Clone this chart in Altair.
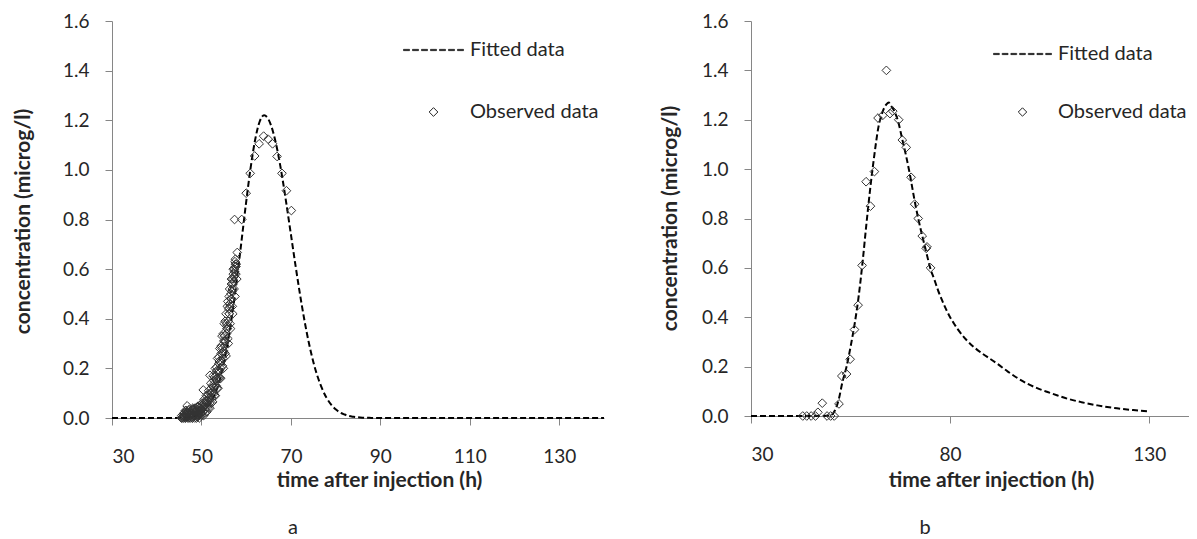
import altair as alt
import pandas as pd

FONT = "Lato"

# ---------------- Panel a ----------------
fit_a_x = [30, 40, 44, 46, 47, 48, 49, 50, 51, 52, 53, 54, 55, 56, 57, 58, 59, 60, 61, 62, 63, 64,
           65, 66, 67, 68, 69, 70, 71, 72, 73, 74, 75, 76, 77, 78, 79, 80, 81, 82, 83, 84, 86, 88, 90, 100, 140]
fit_a_y = [0, 0, 0.0002, 0.0013, 0.0028, 0.0055, 0.0106, 0.0196, 0.0347, 0.0586, 0.095, 0.148, 0.221,
           0.316, 0.434, 0.571, 0.720, 0.871, 1.009, 1.121, 1.194, 1.22,
           1.203, 1.154, 1.077, 0.977, 0.862, 0.740, 0.618, 0.502, 0.396, 0.304, 0.227, 0.165, 0.117,
           0.080, 0.054, 0.035, 0.022, 0.014, 0.008, 0.005, 0.0015, 0.0004, 0.0001, 0, 0]

obs_a_x = [46.8, 49.2, 50.4, 51.9, 57.4, 57.6, 58.0, 59.0, 60.0, 60.9, 61.9, 62.9, 63.9, 64.9, 65.9,
           66.9, 68.0, 69.0, 70.1]
obs_a_y = [0.049, 0.047, 0.113, 0.172, 0.80, 0.62, 0.667, 0.80, 0.906, 0.986, 1.056, 1.105, 1.136,
           1.124, 1.105, 1.054, 0.986, 0.916, 0.836]

# dense run of observations on the rising limb (panel a)
band1_x = [45.8, 46.0, 46.3, 46.5, 46.8, 47.0, 47.2, 47.5, 47.8, 48.0, 48.3, 48.5, 48.8, 49.0, 49.3,
           49.5, 49.8, 50.0, 50.3, 50.5, 50.8, 51.0, 51.3, 51.5, 51.8, 52.0, 52.3, 52.5, 52.8, 53.0,
           53.3, 53.5, 53.8, 54.0, 54.3, 54.5, 54.8, 55.0, 55.2, 55.4, 55.6, 55.8, 56.0, 56.2, 56.4,
           56.6, 56.8, 57.0, 57.2, 57.4, 57.6, 57.8]
band1_y = [0.005, 0.01, 0.0, 0.012, 0.005, 0.015, 0.0, 0.01, 0.005, 0.018, 0.008, 0.02, 0.012, 0.025,
           0.015, 0.03, 0.02, 0.035, 0.025, 0.045, 0.035, 0.055, 0.045, 0.07, 0.06, 0.085, 0.08, 0.105,
           0.1, 0.13, 0.13, 0.16, 0.16, 0.19, 0.2, 0.23, 0.24, 0.27, 0.29, 0.31, 0.34, 0.36, 0.39, 0.42,
           0.45, 0.48, 0.51, 0.54, 0.57, 0.59, 0.61, 0.62]
band2_x = [46.2, 46.9, 47.6, 48.2, 48.9, 49.6, 50.2, 50.9, 51.6, 52.2, 52.8, 53.4, 54.0, 54.6, 55.1,
           55.6, 56.1, 56.6, 57.0, 57.4]
band2_y = [0.02, 0.025, 0.02, 0.03, 0.035, 0.04, 0.05, 0.07, 0.095, 0.12, 0.15, 0.19, 0.23, 0.28,
           0.33, 0.38, 0.44, 0.5, 0.56, 0.6]
band3_x = [47.0, 48.0, 49.0, 50.0, 50.8, 51.5, 52.2, 52.9, 53.5, 54.1, 54.7, 55.3, 55.9, 56.4, 56.9,
           57.3, 57.7]
band3_y = [0.0, 0.0, 0.005, 0.01, 0.02, 0.04, 0.06, 0.09, 0.12, 0.16, 0.21, 0.26, 0.32, 0.38, 0.45,
           0.52, 0.58]
band4_x = [45.6, 46.1, 46.6, 47.1, 47.6, 48.1, 48.6, 49.1, 49.6, 50.1, 50.6, 51.1, 51.6, 52.1, 52.6,
           53.1, 53.6, 54.1, 54.6, 55.1, 55.5, 55.9, 56.3, 56.7, 57.1, 57.5]
band4_y = [0.01, 0.02, 0.03, 0.03, 0.03, 0.035, 0.04, 0.045, 0.05, 0.06, 0.075, 0.09, 0.11, 0.14,
           0.17, 0.2, 0.24, 0.28, 0.33, 0.38, 0.42, 0.47, 0.52, 0.56, 0.6, 0.63]
band5_x = [46.0, 46.5, 47.5, 48.5, 49.5, 50.5, 51.2, 51.9, 52.5, 53.1, 53.7, 54.3, 54.9, 55.5, 56.0,
           56.5, 57.0, 57.5, 57.9]
band5_y = [0.0, 0.0, 0.0, 0.0, 0.0, 0.01, 0.025, 0.04, 0.065, 0.09, 0.12, 0.16, 0.2, 0.25, 0.3,
           0.36, 0.42, 0.49, 0.56]
band6_x = [45.5, 45.9, 46.4, 46.9, 47.4, 47.9, 48.4, 48.9, 49.4, 49.9, 53.2, 53.9, 54.4, 55.0, 55.7,
           56.3, 56.9, 57.3]
band6_y = [0.0, 0.015, 0.005, 0.02, 0.015, 0.0, 0.01, 0.0, 0.01, 0.015, 0.17, 0.22, 0.26, 0.31, 0.37,
           0.46, 0.52, 0.57]
band7_x = [45.7, 46.2, 46.7, 47.2, 47.7, 48.2, 48.7, 49.2, 49.7, 50.2, 50.7, 51.2, 51.7, 52.2, 52.7,
           53.2, 53.7, 54.2, 54.7, 55.2, 55.7, 56.2, 56.7, 57.2, 57.7]
band7_y = [0.0, 0.008, 0.012, 0.008, 0.02, 0.012, 0.025, 0.02, 0.03, 0.04, 0.05, 0.06, 0.08, 0.1,
           0.125, 0.155, 0.19, 0.225, 0.265, 0.31, 0.36, 0.42, 0.48, 0.55, 0.61]
band8_x = [46.4, 47.3, 48.1, 48.7, 49.4, 50.0, 50.6, 51.3, 51.9, 52.4, 52.9, 53.4, 53.9, 54.4, 54.9,
           55.3, 55.8, 56.2, 56.7, 57.1, 57.6]
band8_y = [0.03, 0.035, 0.04, 0.03, 0.02, 0.05, 0.06, 0.07, 0.1, 0.13, 0.165, 0.205, 0.245, 0.29,
           0.34, 0.39, 0.45, 0.49, 0.54, 0.58, 0.64]

# ---------------- Panel b ----------------
fit_b_x = [30, 45, 48, 50, 51, 52, 53, 54, 55, 56, 57, 58, 59, 60, 61, 62, 63, 64, 64.6, 65, 66, 67,
           68, 69, 70, 71, 72, 73, 74, 75, 76, 77, 78, 79, 80, 81, 82, 84, 86, 88, 90, 92, 94.5, 97,
           99.5, 102, 104.5, 107, 109.5, 113, 117, 121, 126, 130]
fit_b_y = [0, 0, 0, 0.003, 0.02, 0.065, 0.14, 0.2, 0.28, 0.37, 0.48, 0.62, 0.78, 0.93, 1.06, 1.17,
           1.23, 1.262, 1.27, 1.26, 1.235, 1.19, 1.12, 1.05, 0.97, 0.88, 0.80, 0.73, 0.665, 0.6,
           0.555, 0.508, 0.468, 0.432, 0.40, 0.374, 0.35, 0.31, 0.279, 0.254, 0.232, 0.21, 0.18,
           0.153, 0.13, 0.112, 0.097, 0.083, 0.07, 0.056, 0.043, 0.033, 0.024, 0.018]

obs_b_x = [43.0, 44.0, 45.1, 46.2, 46.8, 47.9, 49.1, 50.0, 50.9, 52.1, 52.8, 54.0, 54.9, 56.0, 56.9,
           57.9, 58.9, 60.0, 61.0, 61.9, 63.1, 64.0, 64.9, 65.6, 67.1, 68.0, 69.0, 70.2, 71.1, 72.0,
           73.0, 74.0, 74.2, 75.1]
obs_b_y = [0, 0, 0, 0, 0.015, 0.052, 0, 0, 0, 0.049, 0.162, 0.17, 0.23, 0.35, 0.449, 0.61, 0.949,
           0.85, 0.99, 1.207, 1.218, 1.40, 1.225, 1.235, 1.20, 1.118, 1.088, 0.967, 0.858, 0.80,
           0.729, 0.679, 0.685, 0.60]

series_names = ["Fitted data", "Observed data"]
ticks_a = [30, 50, 70, 90, 110, 130]
ticks_b = [30, 80, 130]
y_ticks = [0, 0.2, 0.4, 0.6, 0.8, 1.0, 1.2, 1.4, 1.6]

# legend symbols (custom paths in the [-1, 1] box)
dash_segments = [(-1, -0.8), (-0.7, -0.5), (-0.4, -0.2), (-0.1, 0.1), (0.2, 0.4), (0.5, 0.7), (0.8, 1.0)]
DASH_PATH = " ".join(f"M{a},-0.02H{b}V0.02H{a}Z" for a, b in dash_segments)


def diamond(r):
    return f"M0,-{r}L{r},0L0,{r}L-{r},0Z"


def panel(fit_x, fit_y, obs_x, obs_y, x_ticks, w, h, leg_x, leg_y, sym, row_pad,
          xt_y, yt_x, yt_y, letter, letter_dx):
    fit = pd.DataFrame({"t": fit_x, "c": fit_y})
    obs = pd.DataFrame({"t": obs_x, "c": obs_y, "series": "Observed data"})
    xs = alt.Scale(domain=[30, 140], nice=False, zero=False)
    ys = alt.Scale(domain=[0, 1.6], nice=False)
    xaxis = alt.Axis(values=x_ticks, title="time after injection (h)", grid=False,
                     tickSize=7, labelPadding=22, titleX=w / 2 + 21, titleY=xt_y)
    yaxis = alt.Axis(values=y_ticks, format=".1f", title="concentration (microg/l)", grid=False,
                     tickSize=7, labelPadding=16, titleX=yt_x, titleY=yt_y)
    line = alt.Chart(fit).mark_line(color="black", strokeWidth=2, strokeDash=[6, 3],
                                     interpolate="monotone").encode(
        x=alt.X("t:Q", scale=xs, axis=xaxis),
        y=alt.Y("c:Q", scale=ys, axis=yaxis),
    )
    pts = alt.Chart(obs).mark_point(filled=False, size=3600, stroke="#333333",
                                     strokeWidth=1, opacity=1).encode(
        x=alt.X("t:Q", scale=xs),
        y=alt.Y("c:Q", scale=ys),
        shape=alt.Shape("series:N",
                        scale=alt.Scale(domain=series_names, range=[DASH_PATH, diamond(0.145)]),
                        legend=alt.Legend(orient="none", legendX=leg_x, legendY=leg_y, title=None,
                                          symbolSize=sym, symbolStrokeWidth=1,
                                          symbolStrokeColor="#222222",
                                          symbolFillColor="transparent",
                                          labelFont=FONT, labelFontSize=20, labelColor="#262626",
                                          labelOffset=6, rowPadding=row_pad, padding=0)),
    )
    return alt.layer(line, pts).properties(
        width=w, height=h,
        title=alt.TitleParams(letter, orient="bottom", anchor="middle", dx=letter_dx, offset=28,
                              font=FONT, fontSize=20, fontWeight="normal", color="#262626"),
    )


pa = panel(fit_a_x, fit_a_y,
           obs_a_x + band1_x + band2_x + band3_x + band4_x + band5_x + band6_x + band7_x + band8_x,
           obs_a_y + band1_y + band2_y + band3_y + band4_y + band5_y + band6_y + band7_y + band8_y,
           ticks_a, 492, 397, 291, -1.5, 3600, 21,
           51, -79, 200, "a", -65)
pb = panel(fit_b_x, fit_b_y, obs_b_x, obs_b_y, ticks_b, 438, 395, 242, 3.5, 3364, 18,
           53, -71, 197, "b", -45)

chart = alt.hconcat(pa, pb, spacing=147, bounds="flush").resolve_scale(
    shape="independent", x="independent", y="independent"
).resolve_legend(shape="independent").properties(
    padding={"left": 4, "top": 4, "right": 0, "bottom": 0}
).configure_view(stroke=None).configure_axis(
    domainColor="#868686", tickColor="#868686", labelFont=FONT, labelFontSize=19,
    labelColor="#262626", titleFont=FONT, titleFontSize=21, titleFontWeight="bold",
    titleColor="#262626",
)

chart.save("out.html", embed_options={"renderer": "svg", "actions": False})
